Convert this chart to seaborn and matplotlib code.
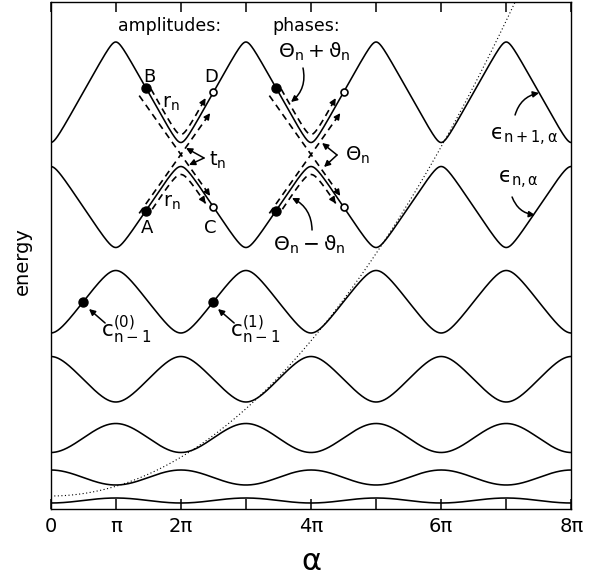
import numpy as np
import pandas as pd
import matplotlib
matplotlib.use("Agg")
import matplotlib.pyplot as plt
import seaborn as sns

# ---------------- data (energy in arbitrary units) ----
band_names = ["n+1", "n", "n-1", "n-2", "n-3", "n-4", "n-5"]
band_max = [467.0, 342.5, 238.5, 152.5, 85.5, 39.0, 11.0]
band_min = [366.5, 261.5, 176.0, 107.0, 56.5, 24.0, 6.0]
band_max_at_odd = [True, False, True, False, True, False, True]
band_sharpness = [0.97, 0.95, 0.85, 0.70, 0.45, 0.25, 0.02]

free_E0 = 13.0        # dotted free-particle curve at alpha = 0
free_curv = 9.7       # rise per (alpha/pi)^2

xtick_pi = [0, 1, 2, 3, 4, 5, 6, 7, 8]
xtick_labels = ["0", "π", "2π", "", "4π", "", "6π", "", "8π"]

crossings_pi = [2, 4]            # avoided crossings with the scattering sketch
filled_offset_pi = -0.54         # B / A relative to crossing
open_offset_pi = 0.50            # D / C relative to crossing
c_points_pi = [0.5, 2.5]         # c_{n-1}^{(0)}, c_{n-1}^{(1)} on band n-1

E_MAX = 507.0


def band_energy(i, a_pi):
    k = band_sharpness[i]
    ph = 1.0 if band_max_at_odd[i] else 0.0
    g = np.arcsin(k * np.cos(np.pi * (a_pi - ph))) / np.arcsin(k)
    return band_min[i] + (band_max[i] - band_min[i]) * (1 + g) / 2


a_grid = np.linspace(0, 8, 2001)
rows = []
for i, nm in enumerate(band_names):
    rows.append(pd.DataFrame({"alpha": a_grid * np.pi,
                              "energy": band_energy(i, a_grid),
                              "band": nm}))
df = pd.concat(rows, ignore_index=True)
free_df = pd.DataFrame({"alpha": a_grid * np.pi,
                        "energy": free_E0 + free_curv * a_grid ** 2})

# ---------------- figure ---------------------------------------------------
sns.set_style("white")
plt.rcParams["font.family"] = ["DejaVu Sans"]
plt.rcParams["mathtext.fontset"] = "dejavusans"
plt.rcParams["mathtext.default"] = "regular"
plt.rcParams["text.color"] = "black"
plt.rcParams["axes.labelcolor"] = "black"
plt.rcParams["xtick.color"] = "black"

fig = plt.figure(figsize=(5.95, 5.81), dpi=100)
ax = fig.add_axes([50.7 / 595, 1 - 509 / 581, 520.6 / 595, 507 / 581])

sns.lineplot(data=df, x="alpha", y="energy", units="band", estimator=None,
             color="black", lw=1.15, ax=ax, sort=False)
sns.lineplot(data=free_df, x="alpha", y="energy", color="black", lw=0.8,
             linestyle=(0, (1, 2.2)), ax=ax, sort=False)

ax.set_xlim(0, 8 * np.pi)
ax.set_ylim(0, E_MAX)
ax.set_xticks(np.array(xtick_pi) * np.pi)
ax.set_xticklabels(xtick_labels, fontsize=14)
ax.set_yticks([])
ax.tick_params(axis="x", direction="in", length=7, width=1.1, top=True,
               bottom=True, labeltop=False, pad=6, colors="black")
for s in ax.spines.values():
    s.set_linewidth(1.0)
    s.set_color("black")
ax.set_xlabel("α", fontsize=22, labelpad=8, color="black")
ax.set_ylabel("energy", fontsize=14, color="black")
ax.yaxis.set_label_coords(-0.036, 0.49)

P = np.pi
dash = (0, (4, 2.8))


def arrow_head(xs, ys):
    ax.annotate("", xy=(xs[-1], ys[-1]), xytext=(xs[-6], ys[-6]),
                arrowprops=dict(arrowstyle="-|>", lw=1.1, color="black",
                                mutation_scale=9, shrinkA=0, shrinkB=0))


slope = 92.0
for c in crossings_pi:
    Ec = (band_min[0] + band_max[1]) / 2
    # reflection paths
    a = np.linspace(c + filled_offset_pi + 0.08, c + 0.38, 120)
    yu = band_energy(0, a) + 8
    ax.plot(a * P, yu, color="black", lw=1.2, linestyle=dash)
    arrow_head(a * P, yu)
    a2 = np.linspace(c + filled_offset_pi + 0.1, c + 0.38, 120)
    yl = band_energy(1, a2) - 8
    ax.plot(a2 * P, yl, color="black", lw=1.2, linestyle=dash)
    arrow_head(a2 * P, yl)
    # transmission paths (diagonals)
    ad = np.linspace(c - 0.64, c + 0.45, 120)
    y1 = Ec - slope * (ad - c)
    y2 = Ec + slope * (ad - c)
    ax.plot(ad * P, y1, color="black", lw=1.2, linestyle=dash)
    ax.plot(ad * P, y2, color="black", lw=1.2, linestyle=dash)
    arrow_head(ad * P, y1)
    arrow_head(ad * P, y2)
    # points
    af, ao = c + filled_offset_pi, c + open_offset_pi
    ax.plot([af * P, af * P], [band_energy(0, af), band_energy(1, af)], "o",
            color="black", ms=6.5, zorder=5)
    ax.plot([ao * P, ao * P], [band_energy(0, ao), band_energy(1, ao)], "o",
            mfc="white", mec="black", mew=1.2, ms=5, zorder=5)

# c_{n-1} points
for cp in c_points_pi:
    ax.plot([cp * P], [band_energy(2, cp)], "o", color="black", ms=6.5, zorder=5)

kw = dict(color="black", ha="center", va="center")
ax.text(1.833 * P, 483, "amplitudes:", fontsize=12.5, **kw)
ax.text(3.924 * P, 483, "phases:", fontsize=12.5, **kw)
ax.text(1.511 * P, 432, "B", fontsize=13, **kw)
ax.text(2.464 * P, 432, "D", fontsize=13, **kw)
ax.text(1.480 * P, 281, "A", fontsize=13, **kw)
ax.text(2.448 * P, 281, "C", fontsize=13, **kw)
ax.text(1.845 * P, 405, r"$r_n$", fontsize=14, **kw)
ax.text(1.860 * P, 306, r"$r_n$", fontsize=14, **kw)
ax.text(2.56 * P, 349, r"$t_n$", fontsize=14, **kw)
ax.text(4.72 * P, 354, r"$\Theta_n$", fontsize=14, **kw)
ax.text(4.047 * P, 457, r"$\Theta_n + \vartheta_n$", fontsize=14.5, **kw)
ax.text(3.97 * P, 264, r"$\Theta_n - \vartheta_n$", fontsize=14.5, **kw)
ax.text(7.274 * P, 372, "$\u03f5_{n+1,\\alpha}$", fontsize=15, **kw)
ax.text(7.182 * P, 329, "$\u03f5_{n,\\alpha}$", fontsize=15, **kw)
ax.text(0.774 * P, 179, r"$c_{n-1}^{(0)}$", fontsize=15.5, color="black",
        ha="left", va="center")
ax.text(2.756 * P, 179, r"$c_{n-1}^{(1)}$", fontsize=15.5, color="black",
        ha="left", va="center")

ap = dict(arrowstyle="-|>", lw=1.1, color="black", mutation_scale=9,
          shrinkA=0, shrinkB=0)
# bracket arrows
for vx, vy, ends in [(2.356, 351, [(2.079, 361), (2.125, 344)]),
                     (4.40, 354, [(4.17, 366), (4.20, 342)])]:
    for ex, ey in ends:
        ax.annotate("", xy=(ex * P, ey), xytext=(vx * P, vy), arrowprops=ap)
# curved label arrows
ax.annotate("", xy=(3.693 * P, 407), xytext=(3.877 * P, 441),
            arrowprops=dict(ap, connectionstyle="arc3,rad=-0.3"))
ax.annotate("", xy=(3.708 * P, 311), xytext=(4.016 * P, 279),
            arrowprops=dict(ap, connectionstyle="arc3,rad=0.3"))
ax.annotate("", xy=(7.505 * P, 416), xytext=(7.136 * P, 394),
            arrowprops=dict(ap, connectionstyle="arc3,rad=-0.3"))
ax.annotate("", xy=(7.443 * P, 294), xytext=(7.090 * P, 312),
            arrowprops=dict(ap, connectionstyle="arc3,rad=0.3"))
# c arrows
ax.annotate("", xy=(0.589 * P, 200), xytext=(0.836 * P, 186), arrowprops=ap)
ax.annotate("", xy=(2.571 * P, 200), xytext=(2.819 * P, 186), arrowprops=ap)

fig.savefig("out.png", dpi=100)
